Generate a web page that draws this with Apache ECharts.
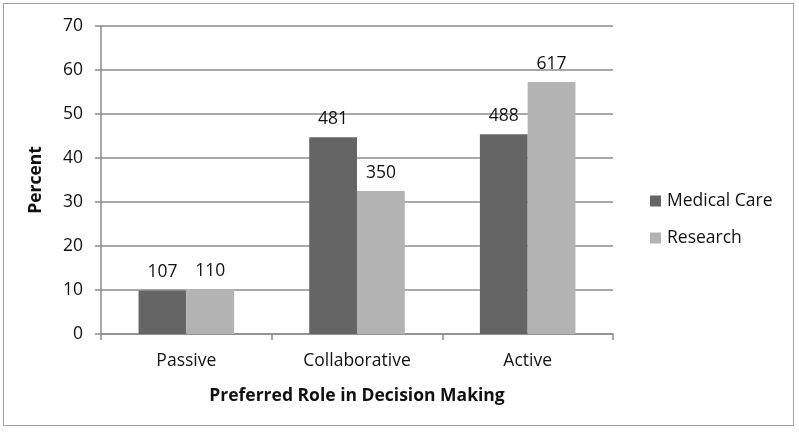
<!DOCTYPE html>
<html><head><meta charset="utf-8">
<script src="https://cdn.jsdelivr.net/npm/echarts@6/dist/echarts.min.js"></script>
<style>
html,body{margin:0;padding:0;background:#fff;}
#wrap{position:absolute;left:3px;top:3px;width:791px;height:423px;border:1.5px solid #a0a0a0;box-sizing:border-box;}
#c{position:absolute;left:0;top:0;width:799px;height:435px;}
</style>
</head><body>
<div id="wrap"></div>
<div id="c"></div>
<script>
const categories = ['Passive', 'Collaborative', 'Active'];
const medicalCare = [9.9, 44.7, 45.4];
const research = [10.2, 32.5, 57.3];
const medicalCounts = [107, 481, 488];
const researchCounts = [110, 350, 617];
const yTicks = [0, 10, 20, 30, 40, 50, 60, 70];

const chart = echarts.init(document.getElementById('c'));
const FONT = '"Open Sans", "Liberation Sans", sans-serif';
function labelFor(counts){
  return {show:true, position:'top', distance:9, color:'#111', fontSize:17.5, fontFamily:FONT,
    formatter: p => String(counts[p.dataIndex])};
}
chart.setOption({
  animation:false,
  textStyle:{fontFamily:FONT},
  grid:{left:101, top:26, width:512, height:308, containLabel:false},
  legend:{
    orient:'vertical', left:645, top:187, itemWidth:11, itemHeight:11, itemGap:19,
    icon:'rect',
    textStyle:{fontSize:17.5, color:'#111', fontFamily:FONT, padding:[0,0,0,1]},
    data:['Medical Care','Research']
  },
  xAxis:{
    type:'category', data:categories,
    axisLine:{lineStyle:{color:'#8c8c8c', width:1.5}},
    axisTick:{show:true, length:6, lineStyle:{color:'#8c8c8c', width:1.5}},
    axisLabel:{fontSize:17.5, color:'#111', margin:18, fontFamily:FONT},
    name:'Preferred Role in Decision Making', nameLocation:'middle', nameGap:53,
    nameTextStyle:{fontSize:17.5, fontWeight:'bold', color:'#111', fontFamily:FONT}
  },
  yAxis:{
    type:'value', min:0, max:70, interval:10,
    axisLine:{show:true, lineStyle:{color:'#8c8c8c', width:1.5}},
    axisTick:{show:true, length:6, lineStyle:{color:'#8c8c8c', width:1.5}},
    splitLine:{lineStyle:{color:'#8c8c8c', width:1.5}},
    axisLabel:{fontSize:17.5, color:'#111', margin:18, fontFamily:FONT,
      formatter: v => yTicks.includes(v) ? String(v) : ''},
    name:'Percent', nameLocation:'middle', nameGap:56, nameRotate:90,
    nameTextStyle:{fontSize:17.5, fontWeight:'bold', color:'#111', fontFamily:FONT}
  },
  series:[
    {name:'Medical Care', type:'bar', data:medicalCare, barGap:'0%', barCategoryGap:'44%',
      itemStyle:{color:'#656565'}, label:labelFor(medicalCounts)},
    {name:'Research', type:'bar', data:research, barGap:'0%', barCategoryGap:'44%',
      itemStyle:{color:'#b3b3b3'}, label:labelFor(researchCounts)}
  ]
});
</script>
</body></html>
